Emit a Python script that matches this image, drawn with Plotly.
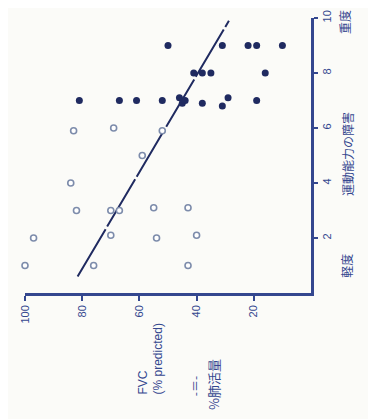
import plotly.graph_objects as go

# FVC (% predicted) vs exercise disability score
filled_fvc = [50, 31, 22, 19, 10, 41, 38, 35, 16, 81, 67, 61, 52, 46, 45, 44, 38, 31, 29, 19]
filled_dis = [9, 9, 9, 9, 9, 8, 8, 8, 8, 7, 7, 7, 7, 7.1, 6.9, 7, 6.9, 6.8, 7.1, 7]

open_fvc = [83, 69, 52, 59, 84, 82, 70, 67, 55, 43, 103, 97, 70, 54, 40, 100, 76, 43]
open_dis = [5.9, 6, 5.9, 5, 4, 3, 3, 3, 3.1, 3.1, 2, 2, 2.1, 2, 2.1, 1, 1, 1]

line_fvc = [81.6, 28.7]
line_dis = [0.6, 9.9]

fvc_ticks = [100, 80, 60, 40, 20]
dis_ticks = [2, 4, 6, 8, 10]

W, H = 376, 419
OFF = 8  # page body margin
L, T = 25 - OFF, 10 - OFF
R = W - (311 - OFF)
B = H - (293 - OFF)
blue = "#34478f"
navy = "#1f2a60"


def px(x, y):
    # pixel position in the screenshot -> paper coordinates
    x, y = x - OFF, y - OFF
    return (x - L) / (W - L - R), (H - B - y) / (H - T - B)


fig = go.Figure()
fig.add_trace(go.Scatter(x=line_fvc, y=line_dis, mode="lines",
                         line=dict(color=navy, width=2, dash="55px,3px")))
fig.add_trace(go.Scatter(x=open_fvc, y=open_dis, mode="markers", cliponaxis=False,
                         marker=dict(size=6, color="white",
                                     line=dict(color="#7d8cab", width=1.6))))
fig.add_trace(go.Scatter(x=filled_fvc, y=filled_dis, mode="markers", cliponaxis=False,
                         marker=dict(size=7, color=navy)))

# (text, x, y, size, yanchor)
texts = [
    ("重度", 345, 14, 12, "middle"),
    ("運動能力の障害", 347, 150, 12, "middle"),
    ("軽度", 347, 265, 12, "middle"),
    ("-＝-", 194, 389, 12, "middle"),
    ("%肺活量", 213, 415, 13, "bottom"),
]
for t, x, y, s, ya in texts:
    ax, ay = px(x, y)
    fig.add_annotation(text=t, x=ax, y=ay, xref="paper", yref="paper",
                       xanchor="center", yanchor=ya,
                       showarrow=False, textangle=-90,
                       font=dict(size=s, color=blue,
                                 family="Noto Sans CJK JP"))

ax, ay = px(151, 400)
fig.add_annotation(text="FVC<br>(% predicted)", x=ax, y=ay, xref="paper", yref="paper",
                   xanchor="center", yanchor="bottom",
                   showarrow=False, textangle=-90, align="left",
                   font=dict(size=12, color=blue, family="Liberation Sans"))

fig.update_layout(
    width=W, height=H, showlegend=False,
    margin=dict(l=L, r=R, t=T, b=B),
    paper_bgcolor="#fbfbf8", plot_bgcolor="#fbfbf8",
    xaxis=dict(range=[100, 0], tickvals=fvc_ticks, showgrid=False, zeroline=False,
               showline=True, linecolor=blue, linewidth=2.5,
               ticks="outside", ticklen=5, tickwidth=1.5, tickcolor=blue,
               tickangle=-90, ticklabeloverflow="allow",
               tickfont=dict(size=11, color=blue, family="Liberation Sans")),
    yaxis=dict(range=[0, 10], tickvals=dis_ticks, side="right", showgrid=False,
               zeroline=False, showline=True, linecolor=blue, linewidth=2.5,
               ticks="outside", ticklen=4, tickwidth=1.5, tickcolor=blue,
               tickangle=-90, ticklabeloverflow="allow",
               tickfont=dict(size=11, color=blue, family="Liberation Sans")),
)

fig.write_html("out.html")
